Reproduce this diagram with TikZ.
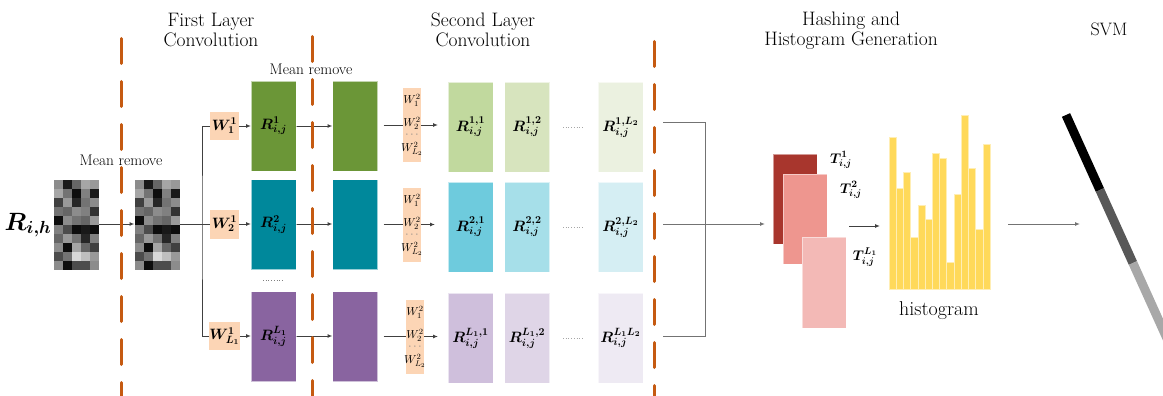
\RequirePackage{fix-cm}
\documentclass[tikz,border=0pt]{standalone}
\usepackage{bm}
\usetikzlibrary{arrows.meta,backgrounds,calc}
\definecolor{dashc}{RGB}{197,90,17}
\definecolor{linec}{RGB}{64,64,64}
\definecolor{wfill}{RGB}{252,213,181}
\definecolor{cga}{RGB}{107,150,55}
\definecolor{cta}{RGB}{0,136,155}
\definecolor{cpa}{RGB}{137,100,160}
\definecolor{cgA}{RGB}{193,217,158}
\definecolor{cgB}{RGB}{215,228,190}
\definecolor{cgC}{RGB}{235,241,224}
\definecolor{ctA}{RGB}{110,203,221}
\definecolor{ctB}{RGB}{166,223,233}
\definecolor{ctC}{RGB}{213,238,243}
\definecolor{cpA}{RGB}{207,191,220}
\definecolor{cpB}{RGB}{223,213,231}
\definecolor{cpC}{RGB}{238,234,243}
\definecolor{tdark}{RGB}{168,54,45}
\definecolor{tmid}{RGB}{238,150,143}
\definecolor{tlight}{RGB}{243,185,182}
\definecolor{hyel}{RGB}{255,217,90}
\definecolor{svmd}{RGB}{88,88,88}
\definecolor{svml}{RGB}{168,168,168}
\newcommand\pixgrid[2]{%
  \foreach \row [count=\r from 0] in {{45,90,60,35,40},{35,55,95,50,90},{75,40,85,55,45},{55,60,45,50,80},{95,45,55,60,40},{50,70,95,90,95},{60,40,55,85,50},{45,95,35,60,75},{70,55,15,25,40},{45,95,70,70,45}}{%
    \foreach \v [count=\c from 0] in \row {%
      \fill[black!\v] (#1+\c*9,#2+\r*9) rectangle ++(9,9);
    }}}
\newcommand\wtwotext[1]{%
  \node[wt] at ($(#1)+(0,-25)$) {$W^2_1$};
  \node[wt] at ($(#1)+(0,-2)$) {$W^2_2$};
  \node[wt,text=gray] at ($(#1)+(0,10)$) {$\cdots$};
  \node[wt] at ($(#1)+(0,24)$) {$W^2_{L_2}$};}
\begin{document}
\begin{tikzpicture}[x=1pt,y=-1pt,
  conn/.style={draw=linec,line width=1pt},
  arr/.style={conn,-{Latex[length=5pt,width=4pt]}},
  dashl/.style={draw=dashc,line width=3pt,dash pattern=on 25pt off 18pt,line cap=round},
  bx/.style={minimum width=45pt,minimum height=90pt,inner sep=0pt,outer sep=0pt,draw=white,draw opacity=0.6,line width=0.8pt,font=\fontsize{15}{17}\selectfont},
  gridn/.style={minimum width=45pt,minimum height=90pt,inner sep=0pt,outer sep=0pt},
  wbox/.style={fill=wfill,inner sep=0pt,outer sep=0pt,minimum width=29pt,minimum height=27pt,font=\fontsize{15}{17}\selectfont},
  wtwo/.style={fill=wfill,inner sep=0pt,outer sep=0pt,minimum width=18pt,minimum height=74pt},
  wt/.style={inner sep=0pt,font=\fontsize{11.5}{12}\selectfont},
  ttl/.style={align=center,font=\fontsize{19.5}{20.5}\selectfont},
  smalltxt/.style={font=\fontsize{15.4}{17}\selectfont},
  tbox/.style={minimum width=44pt,minimum height=90pt,inner sep=0pt,outer sep=0pt,draw=white,draw opacity=0.5,line width=0.6pt},
  tlbl/.style={font=\fontsize{14}{16}\selectfont}
]
\useasboundingbox (0,0) rectangle (1163,396);

% titles
\node[ttl] at (211,30) {First Layer\\Convolution};
\node[ttl] at (483,30) {Second Layer\\Convolution};
\node[ttl] at (851,30.5) {Hashing and\\Histogram Generation};
\node[ttl,font=\fontsize{18}{20}\selectfont] at (1109,29) {SVM};
\node[smalltxt] at (121,160) {Mean remove};
\node[smalltxt] at (311,69) {Mean remove};

% input
\node[font=\fontsize{25}{30}\selectfont] (rin) at (28,225) {$\bm{R_{i,h}}$};
\pixgrid{54}{180}
\pixgrid{134.5}{180}
\node[gridn] (gA) at (76.5,225) {};
\node[gridn] (gB) at (157,225) {};

% first layer
\coordinate (br) at (202,224);
\node[wbox] (w1) at (224.5,126) {$\bm{W^1_1}$};
\node[wbox,minimum height=29pt] (w2) at (224.5,224) {$\bm{W^1_2}$};
\node[wbox,minimum height=28pt] (wL) at (224.5,336) {$\bm{W^1_{L_1}}$};

\node[bx,fill=cga] (r1) at (273.5,126) {$\bm{R^{1}_{i,j}}$};
\node[bx,fill=cta] (r2) at (273.5,224.5) {$\bm{R^{2}_{i,j}}$};
\node[bx,fill=cpa] (r3) at (273.5,336.5) {$\bm{R^{L_1}_{i,j}}$};
\draw[gray,dotted,line width=0.7pt] (263,280) -- (284,280);

\node[bx,fill=cga] (m1) at (355,126) {};
\node[bx,fill=cta] (m2) at (355,224.5) {};
\node[bx,fill=cpa] (m3) at (355,336.5) {};

% second layer
\node[wtwo] (v1) at (412,125) {};
\node[wtwo] (v2) at (412,225) {};
\node[wtwo] (v3) at (415,337) {};

\node[bx,fill=cgA] (s11) at (470.5,127) {$\bm{R^{1,1}_{i,j}}$};
\node[bx,fill=cgB] (s12) at (527,127) {$\bm{R^{1,2}_{i,j}}$};
\node[bx,fill=cgC] (s13) at (620.5,127) {$\bm{R^{1,L_2}_{i,j}}$};
\node[bx,fill=ctA] (s21) at (470.5,227) {$\bm{R^{2,1}_{i,j}}$};
\node[bx,fill=ctB] (s22) at (527,227) {$\bm{R^{2,2}_{i,j}}$};
\node[bx,fill=ctC] (s23) at (620.5,227) {$\bm{R^{2,L_2}_{i,j}}$};
\node[bx,fill=cpA] (s31) at (470.5,338) {$\bm{R^{L_1,1}_{i,j}}$};
\node[bx,fill=cpB] (s32) at (527,338) {$\bm{R^{L_1,2}_{i,j}}$};
\node[bx,fill=cpC] (s33) at (620.5,338) {$\bm{R^{L_1L_2}_{i,j}}$};
\foreach \yy in {127,227,338} \draw[gray!70,dotted,line width=0.7pt] (563,\yy) -- (584,\yy);

% hashing
\node[tbox,fill=tdark] (tA) at (795,199) {};
\node[tbox,fill=tmid] (tB) at (805,219) {};
\node[tbox,fill=tlight,minimum height=91pt] (tC) at (824,282.5) {};
\node[tlbl] at (841,160) {$\bm{T^{1}_{i,j}}$};
\node[tlbl] at (851,190) {$\bm{T^{2}_{i,j}}$};
\node[tlbl] at (865,257) {$\bm{T^{L_1}_{i,j}}$};

% histogram
\foreach \t [count=\i from 0] in {137,188,172,237,205,219,153,158,262,194,115,168,229,144}
  \fill[hyel,draw=white!55!hyel,line width=0.5pt] (889+\i*7.214,\t) rectangle (889+\i*7.214+7.214,289);
\node[inner sep=0pt,outer sep=0pt,minimum width=101pt,minimum height=174pt] (hist) at (939.5,202) {};
\node[font=\fontsize{20}{22}\selectfont] at (939,311) {histogram};

% svm
\begin{scope}
\clip (0,0) rectangle (1163,396);
\draw[line width=9pt,black] (1066,115) -- (1099.9,190);
\draw[line width=9pt,svmd] (1099.9,190) -- (1132.9,263);
\draw[line width=9pt,svml] (1132.9,263) -- (1172.2,350);
\end{scope}

% connectors
\coordinate (o1) at (663,122);
\coordinate (o2) at (663,224);
\coordinate (o3) at (663,336);
\coordinate (j1) at (705,122);
\coordinate (j3) at (705,336);
\coordinate (tin) at (765,224);
\coordinate (hs) at (849,226);
\coordinate (he) at (880,226);
\coordinate (ss) at (1008,224);
\coordinate (se) at (1080,224);
\begin{scope}[on background layer]
\draw[arr] (gA.east |- br) -- (gB.west |- br);
\draw[conn] (gB.east |- br) -- (w2.west);
\draw[conn] (w1.west) -| (br) |- (wL.west);
\draw[arr] (w1.east) -- (w1.east -| r1.west);
\draw[arr] (w2.east) -- (w2.east -| r2.west);
\draw[arr] (wL.east) -- (wL.east -| r3.west);
\draw[arr] (r1.east |- w1.east) -- (m1.west |- w1.east);
\draw[arr] (r2.east |- w2.east) -- (m2.west |- w2.east);
\draw[arr] (r3.east |- wL.east) -- (m3.west |- wL.east);
\draw[arr] ($(m1.east)+(6,-1)$) -- ($(s11.west |- m1.east)+(-10,-1)$);
\draw[arr] ($(m2.east)+(6,0)$) -- ($(s21.west |- m2.east)+(-13,0)$);
\draw[arr] ($(m3.east)+(6,0)$) -- ($(s31.west |- m3.east)+(-10,0)$);
\end{scope}
\wtwotext{v1}
\wtwotext{v2}
\wtwotext{v3}
\draw[conn,draw=gray!90!black] (o1) -- (j1) -- (j3) -- (o3);
\draw[arr,draw=gray!90!black] (o2) -- (tin);
\draw[arr] (hs) -- (he);
\draw[arr,draw=gray!90!black] (ss) -- (se);

% dashed separators
\draw[dashl] (121,38.5) -- (121,400);
\draw[dashl] (312,36.5) -- (312,400);
\draw[dashl] (654,41.5) -- (654,400);
\end{tikzpicture}
\end{document}
